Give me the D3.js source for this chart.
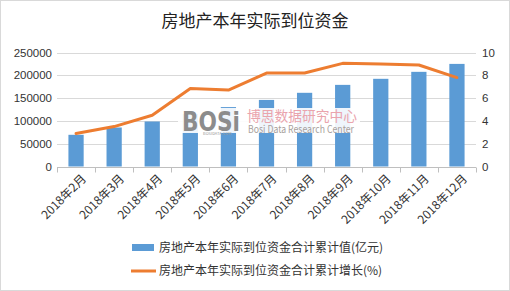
<html>
<head>
<meta charset="utf-8">
<script src="https://cdn.jsdelivr.net/npm/d3@7"></script>
<style>
body { margin: 0; background: #fff; }
text { font-family: "Noto Sans CJK SC", "Noto Sans", sans-serif; }
</style>
</head>
<body>
<div id="chart"></div>
<script>
// data
var months = ["2018年2月","2018年3月","2018年4月","2018年5月","2018年6月","2018年7月","2018年8月","2018年9月","2018年10月","2018年11月","2018年12月"];
var funds = [69500, 85500, 98700, 115000, 130300, 146000, 161600, 179000, 192300, 207600, 225000];
var growth = [2.9, 3.5, 4.5, 6.85, 6.7, 8.2, 8.2, 9.05, 9.0, 8.9, 7.8];
var leftTicks = [0, 50000, 100000, 150000, 200000, 250000];
var rightTicks = [0, 2, 4, 6, 8, 10];

var W = 510, H = 291;
var plotL = 57, plotR = 476, plotT = 52.5, plotB = 166.5;

var svg = d3.select("#chart").append("svg").attr("width", W).attr("height", H);

svg.append("rect").attr("x", 0.5).attr("y", 0.5).attr("width", W - 1).attr("height", H - 1)
  .style("fill", "#fff").style("stroke", "#d9d9d9");

svg.append("text").attr("x", 255).attr("y", 27).attr("text-anchor", "middle")
  .style("font-size", "17px").style("fill", "#222").text("房地产本年实际到位资金");

var x = d3.scaleBand().domain(months).range([plotL, plotR]).paddingInner(0.6).paddingOuter(0.3);
var xb = d3.scaleBand().domain(months).range([plotL, plotR]);
var y = d3.scaleLinear().domain([0, 250000]).range([plotB, plotT]);
var y2 = d3.scaleLinear().domain([0, 10]).range([plotB, plotT]);

// gridlines
svg.append("g").selectAll("line").data(leftTicks.slice(1)).enter().append("line")
  .attr("x1", plotL).attr("x2", plotR)
  .attr("y1", function(d){ return Math.round(y(d)) + 0.5; })
  .attr("y2", function(d){ return Math.round(y(d)) + 0.5; })
  .style("stroke", "#d9d9d9");

// left axis
var ya = svg.append("g").attr("transform", "translate(" + plotL + ",0)")
  .call(d3.axisLeft(y).tickValues(leftTicks).tickSize(0).tickPadding(5).tickFormat(d3.format("d")));
ya.select(".domain").remove();
ya.selectAll("text").style("font-size", "11.5px").style("fill", "#333").style("font-family", "'Liberation Sans', Arial, sans-serif");

// right axis
var yb = svg.append("g").attr("transform", "translate(" + plotR + ",0)")
  .call(d3.axisRight(y2).tickValues(rightTicks).tickSize(0).tickPadding(6));
yb.select(".domain").remove();
yb.selectAll("text").style("font-size", "11.5px").style("fill", "#333").style("font-family", "'Liberation Sans', Arial, sans-serif");

// bars
svg.append("g").selectAll("rect").data(funds).enter().append("rect")
  .attr("x", function(d, i){ return x(months[i]); })
  .attr("width", x.bandwidth())
  .attr("y", function(d){ return y(d); })
  .attr("height", function(d){ return plotB - y(d); })
  .style("fill", "#5b9bd5");

// bottom axis
var xa = svg.append("g").attr("transform", "translate(0," + (Math.round(plotB) + 0.5) + ")");
xa.append("line").attr("x1", plotL).attr("x2", plotR).style("stroke", "#bfbfbf");
xa.selectAll("line.tick").data(months.concat(["end"])).enter().append("line")
  .attr("class", "tick")
  .attr("x1", function(d, i){ return Math.round(plotL + i * xb.step()) + 0.5; })
  .attr("x2", function(d, i){ return Math.round(plotL + i * xb.step()) + 0.5; })
  .attr("y1", 0).attr("y2", 5).style("stroke", "#bfbfbf");
xa.selectAll("text").data(months).enter().append("text")
  .attr("transform", function(d){ return "translate(" + (xb(d) + xb.bandwidth() / 2 + 5) + ",6) rotate(-45)"; })
  .attr("text-anchor", "end").attr("dy", "0.7em")
  .style("font-size", "12px").style("fill", "#333").text(function(d){ return d; });

// watermark
var wm = svg.append("g");
wm.append("rect").attr("x", 178).attr("y", 108).attr("width", 182).attr("height", 25).style("fill", "#fff").style("opacity", 0.9);
wm.append("text").attr("x", 182).attr("y", 131).attr("textLength", 58).attr("lengthAdjust", "spacingAndGlyphs")
  .style("font-size", "27px").style("font-weight", "bold")
  .style("font-family", "'DejaVu Sans', sans-serif").style("fill", "#8c8c8c").text("BOSi");
wm.append("text").attr("x", 203).attr("y", 135).style("font-size", "4px").style("fill", "#999").text("BOSIDATA.COM");
wm.append("text").attr("x", 247).attr("y", 121).attr("textLength", 110).attr("lengthAdjust", "spacingAndGlyphs")
  .style("font-size", "14px").style("fill", "#eaa4ad").text("博思数据研究中心");
wm.append("text").attr("x", 248).attr("y", 133).attr("textLength", 106).attr("lengthAdjust", "spacingAndGlyphs")
  .style("font-size", "10px").style("fill", "#a89f9c").text("Bosi Data Research Center");

// growth line
var line = d3.line()
  .x(function(d, i){ return xb(months[i]) + xb.bandwidth() / 2; })
  .y(function(d){ return y2(d); });
svg.append("path").datum(growth).attr("d", line)
  .style("fill", "none").style("stroke", "#ed7d31").style("stroke-width", 3).style("stroke-linejoin", "round").style("stroke-linecap", "round");

// legend
var lg = svg.append("g");
lg.append("rect").attr("x", 132).attr("y", 244).attr("width", 22).attr("height", 7).style("fill", "#5b9bd5");
lg.append("text").attr("x", 159).attr("y", 252).style("font-size", "12px").style("fill", "#333").text("房地产本年实际到位资金合计累计值(亿元)");
lg.append("line").attr("x1", 131).attr("x2", 156).attr("y1", 271).attr("y2", 271).style("stroke", "#ed7d31").style("stroke-width", 3);
lg.append("text").attr("x", 159).attr("y", 275).style("font-size", "12px").style("fill", "#333").text("房地产本年实际到位资金合计累计增长(%)");
</script>
</body>
</html>
